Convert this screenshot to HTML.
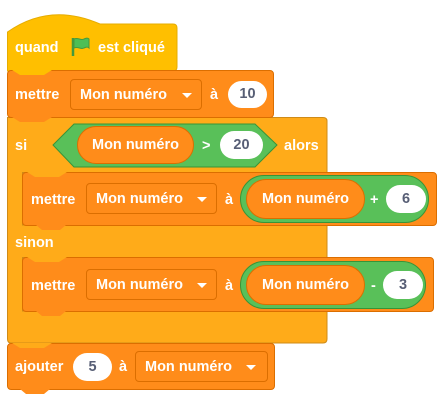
<!DOCTYPE html>
<html><head><meta charset="utf-8"><style>
body{margin:0;width:441px;height:406px;background:#fff;position:relative;overflow:hidden;font-family:"Liberation Sans",sans-serif;}
div{position:absolute;box-sizing:border-box;}
.t{color:#fff;font-size:14.5px;font-weight:bold;line-height:18px;white-space:nowrap;}
.va{background:#FF8C1A;border:1px solid #DB6E00;border-radius:4px;}
.dd{background:#FF8C1A;border:1px solid #DB6E00;border-radius:4px;}
.ov{background:#fff;border-radius:14px;color:#575E75;font-size:14.5px;font-weight:bold;text-align:center;}
.gr{background:#59C059;border:1px solid #389438;}
.rep{background:#FF8C1A;border:1px solid #DB6E00;border-radius:20px;color:#fff;font-size:14.5px;font-weight:bold;text-align:center;}
.tab{width:30px;height:5px;clip-path:polygon(0 0,100% 0,80% 100%,20% 100%);}
.arr{width:0;height:0;border-left:5px solid transparent;border-right:5px solid transparent;border-top:5px solid #fff;}
</style></head><body>
<svg style="position:absolute;left:0;top:0" width="441" height="406">
<path d="M7.5,71 V32 Q50,2 100,24 H173 Q177,24 177,28 V67 Q177,71 173,71 Z" fill="#FFBF00" stroke="#E6AC00"/>
<path d="M7.5,117.5 H323 Q327,117.5 327,121 V172.5 H22.5 V225 H327 V257.5 H22.5 V311 H327 V339 Q327,343 323,343 H11 Q7.5,343 7.5,339 Z" fill="#FFAB19" stroke="#CF8B17"/>
</svg>
<div class="t" style="left:15px;top:39px;">quand</div>
<svg style="position:absolute;left:70px;top:36px" width="22" height="22" viewBox="0 0 22 22"><path d="M3 2v18" stroke="#45993D" stroke-width="2.5"/><path d="M4 3c4-2 7 2 10 0 2-1 4-1 5 0v9c-1-1-3-1-5 0-3 2-6-2-10 0z" fill="#4CBF56" stroke="#45993D" stroke-width="1"/></svg>
<div class="t" style="left:98px;top:39px;">est cliqué</div>
<!-- mettre 1 -->
<div class="va" style="left:7px;top:70px;width:267px;height:48px;"></div>
<div class="tab" style="left:12px;top:70px;width:40px;background:#FFBF00;"></div>
<div class="t" style="left:15px;top:86px;">mettre</div>
<div class="dd" style="left:70px;top:79px;width:132px;height:31px;"></div>
<div class="t" style="left:80px;top:86px;">Mon numéro</div>
<div class="arr" style="left:182px;top:93px;"></div>
<div class="t" style="left:210px;top:86px;">à</div>
<div class="ov" style="left:228px;top:81px;width:39px;height:27px;line-height:27px;">10</div>
<!-- si -->
<div class="tab" style="left:12px;top:117px;width:40px;background:#FF8C1A;"></div>
<div class="t" style="left:15px;top:137px;">si</div>
<svg style="position:absolute;left:52px;top:123px" width="226" height="45"><polygon points="22,1 203,1 225,22 203,44 22,44 1,22" fill="#59C059" stroke="#389438"/></svg>
<div class="rep" style="left:77px;top:126px;width:117px;height:38px;line-height:36px;">Mon numéro</div>
<div class="t" style="left:202px;top:137px;">&gt;</div>
<div class="ov" style="left:220px;top:131px;width:43px;height:28px;line-height:28px;">20</div>
<div class="t" style="left:284px;top:137px;">alors</div>
<!-- inner mettre 1 -->
<div class="va" style="left:22px;top:172px;width:415px;height:54px;"></div>
<div class="tab" style="left:27px;top:172px;width:40px;background:#FFAB19;"></div>
<div class="t" style="left:31px;top:191px;">mettre</div>
<div class="dd" style="left:86px;top:183px;width:131px;height:31px;"></div>
<div class="t" style="left:96px;top:190px;">Mon numéro</div>
<div class="arr" style="left:197px;top:197px;"></div>
<div class="t" style="left:225px;top:191px;">à</div>
<div class="gr" style="left:240px;top:175px;width:189px;height:48px;border-radius:24px;"></div>
<div class="rep" style="left:246px;top:179px;width:119px;height:40px;line-height:38px;">Mon numéro</div>
<div class="t" style="left:370px;top:191px;">+</div>
<div class="ov" style="left:386px;top:185px;width:40px;height:28px;line-height:28px;">6</div>
<div class="tab" style="left:36px;top:225px;background:#FF8C1A;"></div>
<div class="t" style="left:15px;top:234px;">sinon</div>
<!-- inner mettre 2 -->
<div class="va" style="left:22px;top:257px;width:412px;height:55px;"></div>
<div class="tab" style="left:27px;top:257px;width:40px;background:#FFAB19;"></div>
<div class="t" style="left:31px;top:277px;">mettre</div>
<div class="dd" style="left:86px;top:269px;width:131px;height:31px;"></div>
<div class="t" style="left:96px;top:276px;">Mon numéro</div>
<div class="arr" style="left:197px;top:283px;"></div>
<div class="t" style="left:225px;top:277px;">à</div>
<div class="gr" style="left:240px;top:261px;width:186px;height:48px;border-radius:24px;"></div>
<div class="rep" style="left:246px;top:265px;width:119px;height:40px;line-height:38px;">Mon numéro</div>
<div class="t" style="left:371px;top:277px;">-</div>
<div class="ov" style="left:383px;top:271px;width:40px;height:28px;line-height:28px;">3</div>
<div class="tab" style="left:36px;top:311px;background:#FF8C1A;"></div>
<!-- ajouter -->
<div class="va" style="left:7px;top:343px;width:268px;height:47px;"></div>
<div class="tab" style="left:12px;top:343px;width:40px;background:#FFAB19;"></div>
<div class="t" style="left:15px;top:358px;">ajouter</div>
<div class="ov" style="left:73px;top:353px;width:39px;height:28px;line-height:28px;">5</div>
<div class="t" style="left:119px;top:358px;">à</div>
<div class="dd" style="left:135px;top:351px;width:133px;height:31px;"></div>
<div class="t" style="left:145px;top:358px;">Mon numéro</div>
<div class="arr" style="left:246px;top:365px;"></div>
<div class="tab" style="left:20px;top:389px;background:#FF8C1A;"></div>
</body></html>
